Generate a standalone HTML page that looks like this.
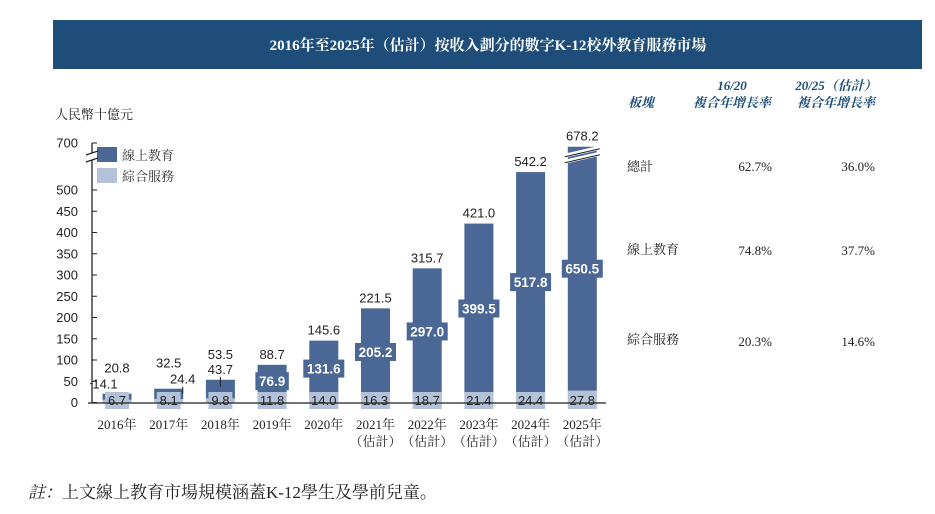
<!DOCTYPE html>
<html><head><meta charset="utf-8">
<style>
body{margin:0;background:#fff;}
svg{display:block;}
.sans{font-family:"Liberation Sans","Noto Sans CJK TC",sans-serif;}
.serif{font-family:"Liberation Serif","Noto Serif CJK SC",serif;}
</style></head>
<body>
<svg id="chart" width="935" height="514" viewBox="0 0 935 514" xmlns="http://www.w3.org/2000/svg">
  <rect x="53" y="20" width="869" height="49" fill="#1d4d78"/>
  <text x="488" y="50" text-anchor="middle" fill="#fff" font-size="15" font-weight="bold" class="serif">2016年至2025年（估計）按收入劃分的數字K-12校外教育服務市場</text>
  <text x="55" y="119" font-size="13" fill="#222" class="serif">人民幣十億元</text>

  <g>
    <rect x="97" y="147" width="20" height="15" fill="#4a6796"/>
    <text x="122" y="160" font-size="13" fill="#333" class="serif">線上教育</text>
    <rect x="97" y="168" width="20" height="15" fill="#b3c1d9"/>
    <text x="122" y="181" font-size="13" fill="#333" class="serif">綜合服務</text>
  </g>

  <g id="axes"></g>
  <g id="bars"></g>

  <g class="serif">
    <g fill="#1d4d78" font-weight="bold" font-style="italic" font-size="13">
      <text x="628" y="107">板塊</text>
      <text x="732" y="90" text-anchor="middle">16/20</text>
      <text x="732" y="107" text-anchor="middle">複合年增長率</text>
      <text x="836" y="90" text-anchor="middle">20/25（估計）</text>
      <text x="836" y="107" text-anchor="middle">複合年增長率</text>
    </g>
    <g fill="#222" font-size="13">
      <text x="627" y="171">總計</text>
      <text x="772" y="171" text-anchor="end">62.7%</text>
      <text x="875" y="171" text-anchor="end">36.0%</text>
      <text x="627" y="254">線上教育</text>
      <text x="772" y="255" text-anchor="end">74.8%</text>
      <text x="875" y="255" text-anchor="end">37.7%</text>
      <text x="627" y="344">綜合服務</text>
      <text x="772" y="346" text-anchor="end">20.3%</text>
      <text x="875" y="346" text-anchor="end">14.6%</text>
    </g>
  </g>

  <text x="28" y="498" font-size="17" fill="#222" class="serif"><tspan font-style="italic">註：</tspan>上文線上教育市場規模涵蓋K-12學生及學前兒童。</text>
</svg>
<script>
const years = ["2016年","2017年","2018年","2019年","2020年","2021年","2022年","2023年","2024年","2025年"];
const estimated = [false,false,false,false,false,true,true,true,true,true];
const onlineValues = [14.1,24.4,43.7,76.9,131.6,205.2,297.0,399.5,517.8,650.5];
const serviceValues = [6.7,8.1,9.8,11.8,14.0,16.3,18.7,21.4,24.4,27.8];
const totalValues = [20.8,32.5,53.5,88.7,145.6,221.5,315.7,421.0,542.2,678.2];
const tickValues = [0,50,100,150,200,250,300,350,400,450,500,700];

const NS = "http://www.w3.org/2000/svg";
const DARK = "#4a6796", LIGHT = "#b3c1d9";
const y0 = 402.5, k = 0.425, breakV = 550, y700 = 143;
function yScale(v){
  if (v <= breakV) return y0 - v*k;
  const yb = y0 - breakV*k;
  return yb - (v-breakV)*(yb - y700)/150;
}
function xScale(i){ return 117 + i*51.7; }
const barW = 29;
function mk(tag, attrs, parent){
  const e = document.createElementNS(NS, tag);
  for (const a in attrs) e.setAttribute(a, attrs[a]);
  parent.appendChild(e);
  return e;
}
const axes = document.getElementById('axes');
const bars = document.getElementById('bars');

let yl = mk('line',{x1:92,y1:143,x2:92,y2:153,stroke:'#222','stroke-width':1.3},axes);


let yl2 = mk('line',{x1:92,y1:160,x2:92,y2:403,stroke:'#222','stroke-width':1.3},axes);


let br = mk('path',{d:'M86,155 L98,151 M86,162 L98,158',stroke:'#222','stroke-width':1.2,fill:'none'},axes);



tickValues.forEach(v=>{
  const y = yScale(v);
  const t = mk('line',{x1:92,y1:y,x2:97,y2:y,stroke:'#222','stroke-width':1},axes);
  
  
  const lb = mk('text',{x:78,y:y+4.5,'text-anchor':'end','font-size':13,fill:'#222',class:'sans'},axes);
  lb.textContent = v;
  
  
});

years.forEach((yr,i)=>{
  const cx = xScale(i), x = cx - barW/2;
  const ySvc = yScale(serviceValues[i]);
  const yTop = yScale(totalValues[i]);
  const s = mk('rect',{x:x,y:ySvc,width:barW,height:y0-ySvc,fill:LIGHT},bars);
  
  
  const o = mk('rect',{x:x,y:yTop,width:barW,height:ySvc-yTop,fill:DARK},bars);
  
  
  const sTxt = serviceValues[i].toFixed(1);
  const sw = Math.min(barW, sTxt.length*7.3 + 2);
  const sb = mk('rect',{x:cx-sw/2,y:392,width:sw,height:17,fill:LIGHT},bars);
  
  
  const st = mk('text',{x:cx,y:405,'text-anchor':'middle','font-size':13,fill:'#222',class:'sans'},bars);
  st.textContent = sTxt;
  
  
  const tl = mk('text',{x:cx,y:yTop-6,'text-anchor':'middle','font-size':13,fill:'#222',class:'sans'},bars);
  tl.textContent = totalValues[i].toFixed(1);
  
  
  if (onlineValues[i] > 60) {
    const midY = (yTop + ySvc)/2;
    const txt = onlineValues[i].toFixed(1);
    const w = txt.length*7.6 + 3;
    const ob = mk('rect',{x:cx-w/2,y:midY-9,width:w,height:18,fill:DARK},bars);
    
    
    const ot = mk('text',{x:cx,y:midY+5,'text-anchor':'middle','font-size':13.5,'font-weight':'bold',fill:'#fff',class:'sans'},bars);
    ot.textContent = txt;
    
    
  } else {
    let lx, ly, line;
    tl.setAttribute('y', yTop-21);
    if (i===0){ lx=cx-12; ly=yTop-5; line=[cx-27,ly-5,cx-25,ly-5]; }
    else if (i===1){ lx=cx+14; ly=yTop-5; line=[cx+14,yTop-2,cx+14,yTop+5]; }
    else { lx=cx; ly=yTop-6; line=[cx,yTop-3,cx,yTop+7]; }
    const ll = mk('line',{x1:line[0],y1:line[1],x2:line[2],y2:line[3],stroke:'#222','stroke-width':1},bars);
    
    
    const ot = mk('text',{x:lx,y:ly,'text-anchor':'middle','font-size':13,fill:'#222',class:'sans'},bars);
    ot.textContent = onlineValues[i].toFixed(1);
    
    
  }
  if (totalValues[i] > 600) {
    const b1 = mk('path',{d:`M${x-3},${yTop+9} L${x+barW+3},${yTop+1} M${x-3},${yTop+15} L${x+barW+3},${yTop+7}`,stroke:'#fff','stroke-width':4,fill:'none'},bars);
    
    
    const b2 = mk('path',{d:`M${x-3},${yTop+10} L${x+barW+3},${yTop+2} M${x-3},${yTop+16} L${x+barW+3},${yTop+8}`,stroke:'#222','stroke-width':1,fill:'none'},bars);
    
    
  }
  const xl = mk('text',{x:cx,y:429,'text-anchor':'middle','font-size':13,fill:'#222',class:'serif'},bars);
  xl.textContent = yr;
  
  
  if (estimated[i]) {
    const el = mk('text',{x:cx,y:446,'text-anchor':'middle','font-size':13,fill:'#222',class:'serif'},bars);
    el.textContent = '（估計）';
    
    
  }
});
const xa = mk('line',{x1:88,y1:403,x2:606,y2:403,stroke:'#222','stroke-width':1.3},bars);


</script>
</body></html>
